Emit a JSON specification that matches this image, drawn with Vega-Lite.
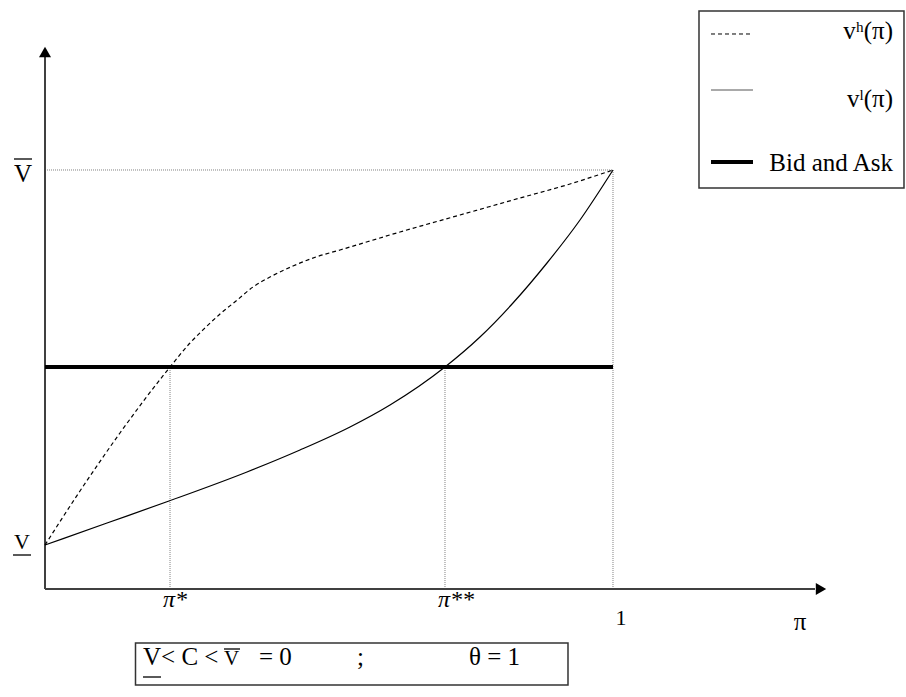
{
  "$schema": "https://vega.github.io/schema/vega-lite/v6.json",
  "width": 906,
  "height": 697,
  "autosize": "none",
  "padding": 0,
  "background": "white",
  "config": {"view": {"stroke": null}, "text": {"font": "Liberation Serif, Times New Roman, serif"}},
  "datasets": {
    "curves": [
      {"series": "vh", "pi": 0, "v": 0},
      {"series": "vh", "pi": 0.0616, "v": 0.144},
      {"series": "vh", "pi": 0.132, "v": 0.2987},
      {"series": "vh", "pi": 0.2201, "v": 0.4747},
      {"series": "vh", "pi": 0.2553, "v": 0.5387},
      {"series": "vh", "pi": 0.2817, "v": 0.5787},
      {"series": "vh", "pi": 0.3081, "v": 0.616},
      {"series": "vh", "pi": 0.3363, "v": 0.6507},
      {"series": "vh", "pi": 0.3662, "v": 0.688},
      {"series": "vh", "pi": 0.3996, "v": 0.7173},
      {"series": "vh", "pi": 0.4366, "v": 0.744},
      {"series": "vh", "pi": 0.4771, "v": 0.768},
      {"series": "vh", "pi": 0.5194, "v": 0.7867},
      {"series": "vh", "pi": 0.625, "v": 0.8347},
      {"series": "vh", "pi": 0.7306, "v": 0.88},
      {"series": "vh", "pi": 0.8363, "v": 0.9253},
      {"series": "vh", "pi": 0.9243, "v": 0.9627},
      {"series": "vh", "pi": 1, "v": 1},
      {"series": "vl", "pi": 0, "v": 0},
      {"series": "vl", "pi": 0.1092, "v": 0.0587},
      {"series": "vl", "pi": 0.2183, "v": 0.1173},
      {"series": "vl", "pi": 0.3556, "v": 0.1947},
      {"series": "vl", "pi": 0.4489, "v": 0.2533},
      {"series": "vl", "pi": 0.537, "v": 0.3147},
      {"series": "vl", "pi": 0.6074, "v": 0.3733},
      {"series": "vl", "pi": 0.7042, "v": 0.4747},
      {"series": "vl", "pi": 0.7658, "v": 0.5547},
      {"series": "vl", "pi": 0.8239, "v": 0.6453},
      {"series": "vl", "pi": 0.8838, "v": 0.752},
      {"series": "vl", "pi": 0.9419, "v": 0.8667},
      {"series": "vl", "pi": 1, "v": 1}
    ],
    "boxes": [
      {"x": 1.15141, "x2": 1.51232, "y": 1.424, "y2": 0.952},
      {"x": 0.15933, "x2": 0.92077, "y": -0.26133, "y2": -0.37333}
    ],
    "guides": [
      {"x": 0, "x2": 1, "y": 1, "y2": 1},
      {"x": 0.2201, "x2": 0.2201, "y": -0.11733, "y2": 0.4747},
      {"x": 0.7042, "x2": 0.7042, "y": -0.11733, "y2": 0.4747},
      {"x": 1, "x2": 1, "y": -0.11733, "y2": 1}
    ],
    "axes": [
      {"x": 0, "x2": 0, "y": -0.11733, "y2": 1.30133},
      {"x": 0, "x2": 1.35563, "y": -0.11733, "y2": -0.11733}
    ],
    "bidask": [
      {"x": 0, "x2": 1, "y": 0.4747, "y2": 0.4747},
      {"x": 1.17254, "x2": 1.24648, "y": 1.02133, "y2": 1.02133}
    ],
    "legendDashed": [{"x": 1.17254, "x2": 1.24648, "y": 1.36267, "y2": 1.36267}],
    "legendSolid": [{"x": 1.17254, "x2": 1.24648, "y": 1.21333, "y2": 1.21333}],
    "bars": [
      {"x": -0.05458, "x2": -0.02289, "y": 1.02933, "y2": 1.02933},
      {"x": -0.05634, "x2": -0.02465, "y": -0.02667, "y2": -0.02667},
      {"x": 0.17254, "x2": 0.20423, "y": -0.352, "y2": -0.352},
      {"x": 0.31514, "x2": 0.34331, "y": -0.27733, "y2": -0.27733}
    ],
    "arrowUp": [{"x": 0, "y": 1.31467}],
    "arrowRight": [{"x": 1.3662, "y": -0.11733}],
    "labVbar": [{"x": -0.03873, "y": 0.968, "label": "V"}],
    "labVunder": [{"x": -0.04049, "y": -0.01067, "label": "V"}],
    "labPiStar": [
      {"x": 0.2289, "y": -0.16533, "label": "π*"},
      {"x": 0.7236, "y": -0.16533, "label": "π**"}
    ],
    "labOne": [{"x": 1.01408, "y": -0.21333, "label": "1"}],
    "labPi": [{"x": 1.32923, "y": -0.22667, "label": "π"}],
    "labLegend": [
      {"x": 1.49296, "y": 1.34933, "label": "vʰ(π)"},
      {"x": 1.49296, "y": 1.168, "label": "vˡ(π)"},
      {"x": 1.49296, "y": 0.99733, "label": "Bid and Ask"}
    ],
    "labBox": [
      {"x": 0.17254, "y": -0.32, "label": "V< C <"},
      {"x": 0.37676, "y": -0.32, "label": "= 0"},
      {"x": 0.5493, "y": -0.32, "label": ";"},
      {"x": 0.74648, "y": -0.32, "label": "θ = 1"}
    ],
    "labBoxV": [{"x": 0.31514, "y": -0.32, "label": "V"}]
  },
  "layer": [
    {
      "data": {"name": "boxes"},
      "mark": {"type": "rect", "fill": "white", "stroke": "#333333", "strokeWidth": 1.5},
      "encoding": {
        "x": {"field": "x", "type": "quantitative", "scale": {"domain": [-0.07923, 1.51585], "nice": false, "zero": false}, "axis": null},
        "x2": {"field": "x2"},
        "y": {"field": "y", "type": "quantitative", "scale": {"domain": [-0.40533, 1.45333], "nice": false, "zero": false}, "axis": null},
        "y2": {"field": "y2"}
      }
    },
    {
      "data": {"name": "guides"},
      "mark": {"type": "rule", "stroke": "#808080", "strokeWidth": 1, "strokeDash": [1, 1]},
      "encoding": {
        "x": {"field": "x", "type": "quantitative"},
        "x2": {"field": "x2"},
        "y": {"field": "y", "type": "quantitative"},
        "y2": {"field": "y2"}
      }
    },
    {
      "data": {"name": "axes"},
      "mark": {"type": "rule", "stroke": "#404040", "strokeWidth": 2},
      "encoding": {
        "x": {"field": "x", "type": "quantitative"},
        "x2": {"field": "x2"},
        "y": {"field": "y", "type": "quantitative"},
        "y2": {"field": "y2"}
      }
    },
    {
      "data": {"name": "arrowUp"},
      "mark": {"type": "point", "shape": "triangle-up", "filled": true, "color": "black", "size": 144, "opacity": 1},
      "encoding": {
        "x": {"field": "x", "type": "quantitative"},
        "y": {"field": "y", "type": "quantitative"}
      }
    },
    {
      "data": {"name": "arrowRight"},
      "mark": {"type": "point", "shape": "triangle-right", "filled": true, "color": "black", "size": 144, "opacity": 1},
      "encoding": {
        "x": {"field": "x", "type": "quantitative"},
        "y": {"field": "y", "type": "quantitative"}
      }
    },
    {
      "data": {"name": "bidask"},
      "mark": {"type": "rule", "stroke": "black", "strokeWidth": 4},
      "encoding": {
        "x": {"field": "x", "type": "quantitative"},
        "x2": {"field": "x2"},
        "y": {"field": "y", "type": "quantitative"},
        "y2": {"field": "y2"}
      }
    },
    {
      "data": {"name": "legendDashed"},
      "mark": {"type": "rule", "stroke": "black", "strokeWidth": 1, "strokeDash": [4, 3]},
      "encoding": {
        "x": {"field": "x", "type": "quantitative"},
        "x2": {"field": "x2"},
        "y": {"field": "y", "type": "quantitative"},
        "y2": {"field": "y2"}
      }
    },
    {
      "data": {"name": "legendSolid"},
      "mark": {"type": "rule", "stroke": "#555555", "strokeWidth": 1},
      "encoding": {
        "x": {"field": "x", "type": "quantitative"},
        "x2": {"field": "x2"},
        "y": {"field": "y", "type": "quantitative"},
        "y2": {"field": "y2"}
      }
    },
    {
      "data": {"name": "bars"},
      "mark": {"type": "rule", "stroke": "black", "strokeWidth": 1.3},
      "encoding": {
        "x": {"field": "x", "type": "quantitative"},
        "x2": {"field": "x2"},
        "y": {"field": "y", "type": "quantitative"},
        "y2": {"field": "y2"}
      }
    },
    {
      "data": {"name": "curves"},
      "transform": [{"filter": "datum.series === 'vh'"}],
      "mark": {"type": "line", "interpolate": "monotone", "stroke": "black", "strokeWidth": 1.2, "strokeDash": [4, 3]},
      "encoding": {
        "x": {"field": "pi", "type": "quantitative"},
        "y": {"field": "v", "type": "quantitative"}
      }
    },
    {
      "data": {"name": "curves"},
      "transform": [{"filter": "datum.series === 'vl'"}],
      "mark": {"type": "line", "interpolate": "monotone", "stroke": "black", "strokeWidth": 1.2},
      "encoding": {
        "x": {"field": "pi", "type": "quantitative"},
        "y": {"field": "v", "type": "quantitative"}
      }
    },
    {
      "data": {"name": "labVbar"},
      "mark": {"type": "text", "font": "Liberation Serif, Times New Roman, serif", "fontSize": 25, "align": "center", "baseline": "alphabetic", "color": "black"},
      "encoding": {
        "x": {"field": "x", "type": "quantitative"},
        "y": {"field": "y", "type": "quantitative"},
        "text": {"field": "label"}
      }
    },
    {
      "data": {"name": "labVunder"},
      "mark": {"type": "text", "font": "Liberation Serif, Times New Roman, serif", "fontSize": 22, "align": "center", "baseline": "alphabetic", "color": "black"},
      "encoding": {
        "x": {"field": "x", "type": "quantitative"},
        "y": {"field": "y", "type": "quantitative"},
        "text": {"field": "label"}
      }
    },
    {
      "data": {"name": "labPiStar"},
      "mark": {"type": "text", "font": "Liberation Serif, Times New Roman, serif", "fontStyle": "italic", "fontSize": 24, "align": "center", "baseline": "alphabetic", "color": "black"},
      "encoding": {
        "x": {"field": "x", "type": "quantitative"},
        "y": {"field": "y", "type": "quantitative"},
        "text": {"field": "label"}
      }
    },
    {
      "data": {"name": "labOne"},
      "mark": {"type": "text", "font": "Liberation Serif, Times New Roman, serif", "fontSize": 22, "align": "center", "baseline": "alphabetic", "color": "black"},
      "encoding": {
        "x": {"field": "x", "type": "quantitative"},
        "y": {"field": "y", "type": "quantitative"},
        "text": {"field": "label"}
      }
    },
    {
      "data": {"name": "labPi"},
      "mark": {"type": "text", "font": "Liberation Serif, Times New Roman, serif", "fontSize": 25, "align": "center", "baseline": "alphabetic", "color": "black"},
      "encoding": {
        "x": {"field": "x", "type": "quantitative"},
        "y": {"field": "y", "type": "quantitative"},
        "text": {"field": "label"}
      }
    },
    {
      "data": {"name": "labLegend"},
      "mark": {"type": "text", "font": "Liberation Serif, Times New Roman, serif", "fontSize": 25, "align": "right", "baseline": "alphabetic", "color": "black"},
      "encoding": {
        "x": {"field": "x", "type": "quantitative"},
        "y": {"field": "y", "type": "quantitative"},
        "text": {"field": "label"}
      }
    },
    {
      "data": {"name": "labBox"},
      "mark": {"type": "text", "font": "Liberation Serif, Times New Roman, serif", "fontSize": 25, "align": "left", "baseline": "alphabetic", "color": "black"},
      "encoding": {
        "x": {"field": "x", "type": "quantitative"},
        "y": {"field": "y", "type": "quantitative"},
        "text": {"field": "label"}
      }
    },
    {
      "data": {"name": "labBoxV"},
      "mark": {"type": "text", "font": "Liberation Serif, Times New Roman, serif", "fontSize": 21, "align": "left", "baseline": "alphabetic", "color": "black"},
      "encoding": {
        "x": {"field": "x", "type": "quantitative"},
        "y": {"field": "y", "type": "quantitative"},
        "text": {"field": "label"}
      }
    }
  ]
}
